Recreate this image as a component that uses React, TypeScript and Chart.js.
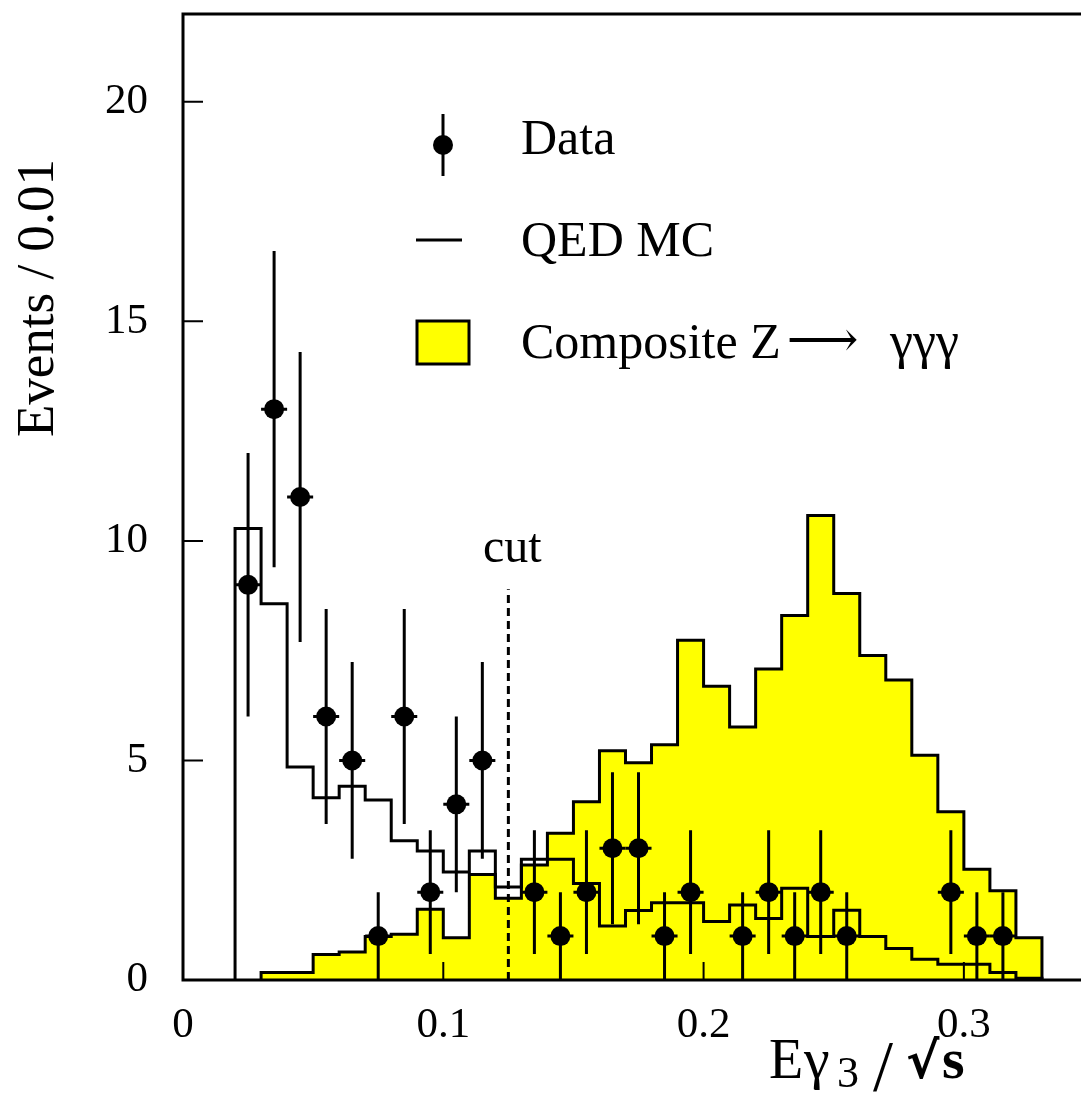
import React, { useEffect, useRef } from "react";
import { Chart, registerables } from "chart.js";

Chart.register(...registerables);

// ---------------- data ----------------
const BIN_WIDTH = 0.01;

const QED_BIN_LEFT = [
  0.02, 0.03, 0.04, 0.05, 0.06, 0.07, 0.08, 0.09, 0.1, 0.11, 0.12, 0.13, 0.14, 0.15, 0.16,
  0.17, 0.18, 0.19, 0.2, 0.21, 0.22, 0.23, 0.24, 0.25, 0.26, 0.27, 0.28, 0.29, 0.3, 0.31, 0.32,
];
const QED_VALUES = [
  10.28, 8.57, 4.85, 4.15, 4.41, 4.1, 3.17, 2.94, 2.46, 2.94, 2.12, 2.75, 2.75, 2.2, 1.23,
  1.58, 1.76, 1.76, 1.33, 1.71, 1.4, 2.09, 0.99, 1.59, 0.99, 0.72, 0.47, 0.36, 0.36, 0.17, 0.04,
];

const Z_BIN_LEFT = [
  0.03, 0.04, 0.05, 0.06, 0.07, 0.08, 0.09, 0.1, 0.11, 0.12, 0.13, 0.14, 0.15, 0.16, 0.17,
  0.18, 0.19, 0.2, 0.21, 0.22, 0.23, 0.24, 0.25, 0.26, 0.27, 0.28, 0.29, 0.3, 0.31, 0.32,
];
const Z_VALUES = [
  0.17, 0.17, 0.58, 0.64, 0.99, 1.04, 1.61, 0.96, 2.4, 1.86, 2.62, 3.34, 4.06, 5.22, 4.95,
  5.36, 7.74, 6.69, 5.76, 7.08, 8.3, 10.58, 8.8, 7.39, 6.83, 5.12, 3.83, 2.52, 2.03, 0.96,
];

const DATA_X = [
  0.025, 0.035, 0.045, 0.055, 0.065, 0.075, 0.085, 0.095, 0.105, 0.115, 0.135, 0.145, 0.155,
  0.165, 0.175, 0.185, 0.195, 0.215, 0.225, 0.235, 0.245, 0.255, 0.295, 0.305, 0.315,
];
const DATA_Y = [9, 13, 11, 6, 5, 1, 6, 2, 4, 5, 2, 1, 2, 3, 3, 1, 2, 1, 2, 1, 2, 1, 2, 1, 1];
const DATA_ERR = [
  3.0, 3.6, 3.3, 2.45, 2.24, 1.0, 2.45, 1.41, 2.0, 2.24, 1.41, 1.0, 1.41, 1.73, 1.73, 1.0,
  1.41, 1.0, 1.41, 1.0, 1.41, 1.0, 1.41, 1.0, 1.0,
];

const X_TICKS = [0, 0.1, 0.2, 0.3];
const X_TICK_LABELS = ["0", "0.1", "0.2", "0.3"];
const Y_TICKS = [0, 5, 10, 15, 20];
const Y_TICK_LABELS = ["0", "5", "10", "15", "20"];

const CUT_X = 0.125;
const CUT_TOP = 8.9;
const CUT_LABEL = "cut";

const LEGEND_LABELS = ["Data", "QED MC", "Composite Z"];
const LEGEND_ARROW = "\u27F6";
const LEGEND_GAMMAS = "\u03B3\u03B3\u03B3";
const Y_TITLE = "Events / 0.01";

const X_MIN = 0;
const X_MAX = 0.345;
const Y_MIN = 0;
const Y_MAX = 22;

const MARKER_RADIUS = 10;
const YELLOW = "#ffff00";
const SERIF = "'Liberation Serif', 'Times New Roman', serif";

function histPoints(left: number[], vals: number[]) {
  const pts: { x: number; y: number }[] = [];
  left.forEach((x, i) => {
    pts.push({ x, y: i === 0 ? 0 : vals[i - 1] });
    pts.push({ x, y: vals[i] });
  });
  const end = left[left.length - 1] + BIN_WIDTH;
  pts.push({ x: end, y: vals[vals.length - 1] });
  pts.push({ x: end, y: 0 });
  return pts;
}

const decorPlugin = {
  id: "decor",
  afterDatasetsDraw(chart: any) {
    const { ctx, chartArea, scales } = chart;
    const xs = scales.x;
    const ys = scales.y;
    ctx.save();
    ctx.strokeStyle = "#000";
    ctx.fillStyle = "#000";
    ctx.lineCap = "butt";
    // error bars + markers (positions from the scatter dataset's elements / scales)
    ctx.lineWidth = 3;
    const meta = chart.getDatasetMeta(0);
    DATA_X.forEach((x, i) => {
      const el = meta.data[i];
      const px = el ? el.x : xs.getPixelForValue(x);
      const py = el ? el.y : ys.getPixelForValue(DATA_Y[i]);
      const lo = ys.getPixelForValue(Math.max(0, DATA_Y[i] - DATA_ERR[i]));
      const hi = ys.getPixelForValue(DATA_Y[i] + DATA_ERR[i]);
      const l = xs.getPixelForValue(x - BIN_WIDTH / 2);
      const r = xs.getPixelForValue(x + BIN_WIDTH / 2);
      ctx.beginPath();
      ctx.moveTo(px, lo);
      ctx.lineTo(px, hi);
      ctx.moveTo(l, py);
      ctx.lineTo(r, py);
      ctx.stroke();
      ctx.beginPath();
      ctx.arc(px, py, MARKER_RADIUS, 0, Math.PI * 2);
      ctx.fill();
    });
    // frame (left, top, bottom)
    ctx.lineWidth = 3;
    ctx.beginPath();
    ctx.moveTo(chart.width + 2, chartArea.top);
    ctx.lineTo(chartArea.left, chartArea.top);
    ctx.lineTo(chartArea.left, chartArea.bottom);
    ctx.lineTo(chart.width + 2, chartArea.bottom);
    ctx.stroke();
    // inward ticks
    ctx.lineWidth = 2;
    ctx.beginPath();
    Y_TICKS.forEach((v) => {
      const py = ys.getPixelForValue(v);
      ctx.moveTo(chartArea.left, py);
      ctx.lineTo(chartArea.left + 20, py);
    });
    X_TICKS.forEach((v) => {
      const px = xs.getPixelForValue(v);
      ctx.moveTo(px, chartArea.bottom);
      ctx.lineTo(px, chartArea.bottom - 18);
    });
    ctx.stroke();
    ctx.restore();
  },
  afterDraw(chart: any) {
    const { ctx, scales } = chart;
    const xs = scales.x;
    const ys = scales.y;
    ctx.save();
    ctx.fillStyle = "#000";
    ctx.strokeStyle = "#000";

    // cut label
    ctx.font = `48px ${SERIF}`;
    ctx.textAlign = "center";
    ctx.textBaseline = "alphabetic";
    ctx.fillText(CUT_LABEL, xs.getPixelForValue(CUT_X) + 4, ys.getPixelForValue(CUT_TOP) - 27);

    // y title
    ctx.save();
    ctx.translate(53, 298);
    ctx.rotate(-Math.PI / 2);
    ctx.font = `53px ${SERIF}`;
    ctx.textAlign = "center";
    ctx.fillText(Y_TITLE, 0, 0);
    ctx.restore();

    // x title: E gamma_3 / sqrt(s)
    ctx.textAlign = "left";
    ctx.font = `56px ${SERIF}`;
    ctx.fillText("E", 769, 1078);
    ctx.font = `58px ${SERIF}`;
    ctx.fillText("\u03B3", 804, 1078);
    ctx.font = `44px ${SERIF}`;
    ctx.fillText("3", 837, 1087);
    ctx.font = `72px ${SERIF}`;
    ctx.fillText("/", 873, 1090);
    ctx.font = `bold 50px 'DejaVu Sans', sans-serif`;
    ctx.fillText("\u221A", 906, 1078);
    ctx.font = `bold 58px ${SERIF}`;
    ctx.fillText("s", 942, 1078);

    // legend
    ctx.lineWidth = 3;
    ctx.beginPath();
    ctx.moveTo(443, 114);
    ctx.lineTo(443, 176);
    ctx.stroke();
    ctx.beginPath();
    ctx.arc(443, 145, MARKER_RADIUS, 0, Math.PI * 2);
    ctx.fill();

    ctx.beginPath();
    ctx.moveTo(416, 240);
    ctx.lineTo(462, 240);
    ctx.stroke();

    ctx.fillStyle = YELLOW;
    ctx.fillRect(417, 321, 52, 43);
    ctx.strokeRect(417, 321, 52, 43);

    ctx.fillStyle = "#000";
    ctx.font = `50px ${SERIF}`;
    ctx.fillText(LEGEND_LABELS[0], 521, 154);
    ctx.fillText(LEGEND_LABELS[1], 521, 256);
    ctx.fillText(LEGEND_LABELS[2], 521, 358);
    const w = ctx.measureText(LEGEND_LABELS[2]).width;
    ctx.font = `50px 'DejaVu Serif', ${SERIF}`;
    ctx.fillText(LEGEND_ARROW, 521 + w + 6, 356);
    ctx.font = `52px ${SERIF}`;
    ctx.fillText(LEGEND_GAMMAS, 890, 358);
    ctx.restore();
  },
};

function noPad(scale: any) {
  scale.paddingTop = 0;
  scale.paddingBottom = 0;
  scale.paddingLeft = 0;
  scale.paddingRight = 0;
}

export default function App() {
  const canvasRef = useRef<HTMLCanvasElement | null>(null);

  useEffect(() => {
    const canvas = canvasRef.current;
    if (!canvas) return;
    const chart = new Chart(canvas, {
      type: "line",
      data: {
        datasets: [
          {
            type: "scatter",
            label: "Data",
            data: DATA_X.map((x, i) => ({ x, y: DATA_Y[i] })),
            pointRadius: 0,
            pointHoverRadius: 0,
            pointBorderWidth: 0,
            borderWidth: 0,
            showLine: false,
            order: 0,
          },
          {
            type: "line",
            label: "QED MC",
            data: histPoints(QED_BIN_LEFT, QED_VALUES),
            borderColor: "#000",
            borderWidth: 3,
            pointRadius: 0,
            fill: false,
            tension: 0,
            order: 1,
          },
          {
            type: "line",
            label: "cut",
            data: [
              { x: CUT_X, y: 0 },
              { x: CUT_X, y: CUT_TOP },
            ],
            borderColor: "#000",
            borderWidth: 3,
            borderDash: [8, 5],
            pointRadius: 0,
            fill: false,
            order: 2,
          },
          {
            type: "line",
            label: "Composite Z",
            data: histPoints(Z_BIN_LEFT, Z_VALUES),
            borderColor: "#000",
            borderWidth: 3,
            backgroundColor: YELLOW,
            pointRadius: 0,
            fill: "origin",
            tension: 0,
            order: 3,
          },
        ],
      },
      options: {
        responsive: false,
        animation: false,
        devicePixelRatio: 1,
        layout: { padding: { top: 14, right: 0, left: 0, bottom: 0 } },
        plugins: {
          legend: { display: false },
          tooltip: { enabled: false },
          title: { display: false },
        },
        scales: {
          x: {
            type: "linear",
            min: X_MIN,
            max: X_MAX,
            grid: { display: false, drawTicks: false },
            border: { display: false },
            afterBuildTicks: (scale: any) => {
              scale.ticks = X_TICKS.map((v) => ({ value: v }));
            },
            afterFit: (scale: any) => {
              scale.height = 119;
              noPad(scale);
            },
            ticks: {
              autoSkip: false,
              maxRotation: 0,
              padding: 20,
              color: "#000",
              font: { family: SERIF, size: 43 },
              callback: (_v: any, i: number) => X_TICK_LABELS[i],
            },
          },
          y: {
            type: "linear",
            min: Y_MIN,
            max: Y_MAX,
            grid: { display: false, drawTicks: false },
            border: { display: false },
            afterBuildTicks: (scale: any) => {
              scale.ticks = Y_TICKS.map((v) => ({ value: v }));
            },
            afterFit: (scale: any) => {
              scale.width = 183;
              noPad(scale);
            },
            ticks: {
              autoSkip: false,
              padding: 35,
              color: "#000",
              font: { family: SERIF, size: 43 },
              callback: (_v: any, i: number) => Y_TICK_LABELS[i],
            },
          },
        },
      },
      plugins: [decorPlugin],
    } as any);
    return () => chart.destroy();
  }, []);

  return (
    <div style={{ position: "absolute", left: 0, top: 0, width: 1081, height: 1099, background: "#fff" }}>
      <canvas ref={canvasRef} width={1081} height={1099} style={{ display: "block" }} />
    </div>
  );
}
